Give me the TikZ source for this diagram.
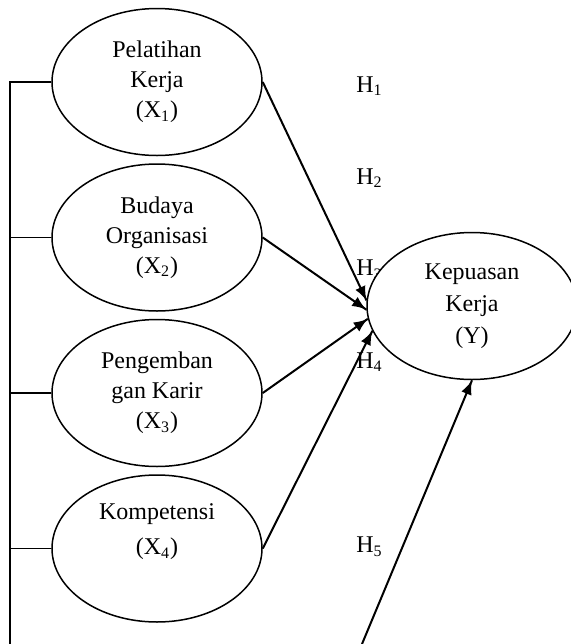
\documentclass[tikz,border=0pt]{standalone}
\usepackage{fontspec}
\setmainfont{Liberation Serif}
\usetikzlibrary{positioning}
\usetikzlibrary{shapes.geometric}
\usetikzlibrary{arrows.meta}
\usetikzlibrary{decorations.markings}
\tikzset{arr/.style = {line width=1pt,
                       decoration={markings,
                                   mark=at position 0.999
                                   with {\arrow{Latex[length=7pt,width=5.5pt]}}},
                       postaction={decorate}}}
\tikzset{var/.style = {draw, ellipse, fill=white, line width=0.75pt, inner sep=0,
                       minimum width=105pt, minimum height=73.5pt, align=center,
                       font=\fontsize{12}{15}\selectfont}}
\tikzset{hyp/.style = {anchor=west, inner sep=0, font=\fontsize{12}{15}\selectfont}}
\tikzset{rail/.style = {line width=0.75pt}}

\begin{document}
\begin{tikzpicture}[x=0.5pt, y=-0.5pt]
      \useasboundingbox (0,0) rectangle (570,644);

      \node[hyp] (h1) at (356,86) {H\textsubscript{1}};
      \node[hyp] (h2) at (356,178) {H\textsubscript{2}};
      \node[hyp] (h3) at (356,270) {H\textsubscript{3}};
      \node[hyp] (h4) at (356,362) {H\textsubscript{4}};
      \node[hyp] (h5) at (356,547) {H\textsubscript{5}};

      \node[var] (x1) at (157,82) {Pelatihan\\Kerja\\(X\textsubscript{1})};
      \node[var, below=3.5pt of x1] (x2) {Budaya\\Organisasi\\(X\textsubscript{2})};
      \node[var, below=3.5pt of x2] (x3) {Pengemban\\gan Karir\\(X\textsubscript{3})};
      \node[var, below=3.5pt of x3] (x4) {Kompetensi\\[2.5pt](X\textsubscript{4})\\\strut};
      \node[var] (y) at (472,306) {Kepuasan\\[1pt]Kerja\\[1pt](Y)};

      \coordinate (top) at (10,82);
      \coordinate (bot) at (10,644);
      \draw[rail] (x1.west) -- (top) -- (bot);
      \foreach \n in {2,3,4}
        \draw[rail] (x\n.west) -- (x\n.west -| top);

      \draw[arr] (x1.east) -- (y.177);
      \draw[arr] (x2.east) -- (y.182);
      \draw[arr] (x3.east) -- (y.187);
      \draw[arr] (x4.east) -- (y.194);
      \coordinate (h5end) at (362,644);
      \draw[arr] (h5end) -- (y.south);
    \end{tikzpicture}
\end{document}
